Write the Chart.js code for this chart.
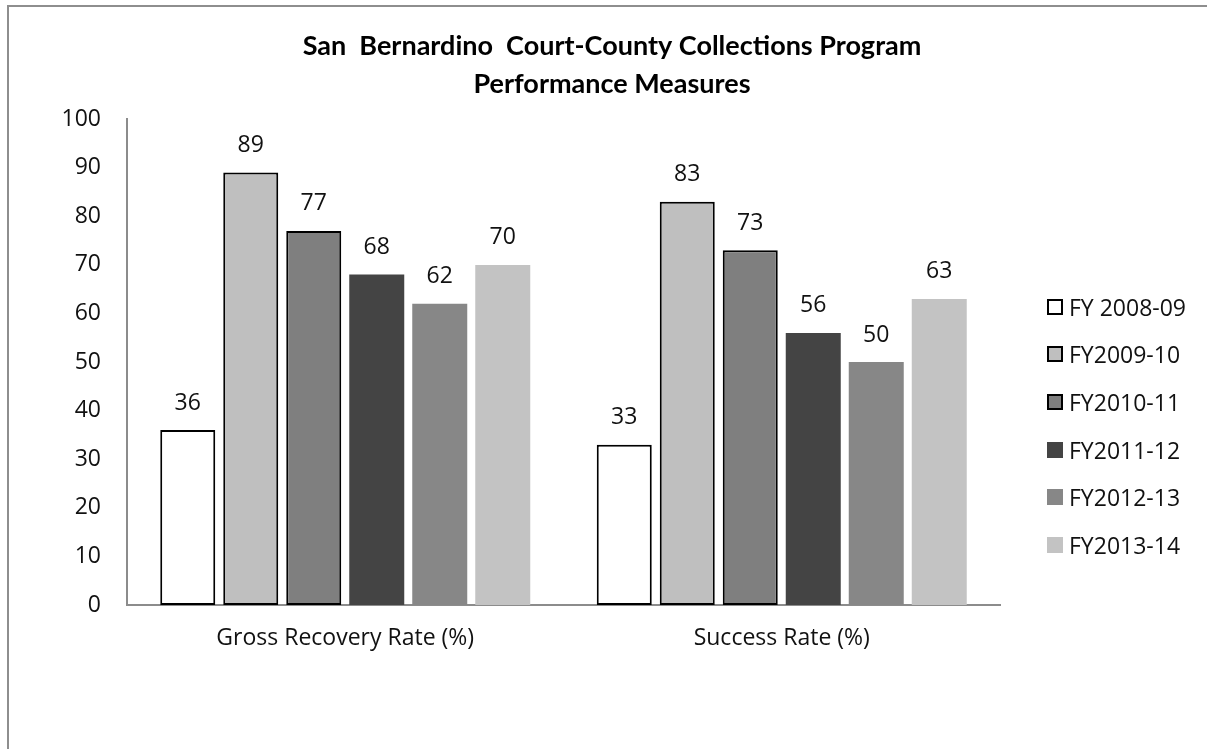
<!DOCTYPE html>
<html>
<head>
<meta charset="utf-8">
<script src="https://cdn.jsdelivr.net/npm/chart.js@4.4.1/dist/chart.umd.min.js"></script>
<style>
    html, body { margin: 0; padding: 0; background: #fff; overflow: hidden; }
    #frame {
        position: absolute; left: 7px; top: 5px; width: 1300px; height: 900px;
        border: 2px solid #8e8e8e; box-sizing: border-box;
    }
    #wrap { position: absolute; left: 0; top: 0; width: 1207px; height: 749px; }
    #legend {
        position: absolute; left: 1047px; top: 283px;
        font-family: "Open Sans", sans-serif; font-size: 23px; color: #111;
    }
    .item { height: 47.6px; display: flex; align-items: center; }
    .swatch { width: 16px; height: 16px; box-sizing: border-box; margin-right: 6px; }
</style>
</head>
<body>
<div id="frame"></div>
<div id="wrap"><canvas id="chart"></canvas></div>
<div id="legend"></div>
<script>
const categories = ['Gross Recovery Rate (%)', 'Success Rate (%)'];
const seriesNames = ['FY 2008-09', 'FY2009-10', 'FY2010-11', 'FY2011-12', 'FY2012-13', 'FY2013-14'];

const fy0809 = [36, 33];
const fy0910 = [89, 83];
const fy1011 = [77, 73];
const fy1112 = [68, 56];
const fy1213 = [62, 50];
const fy1314 = [70, 63];

const FILLS = ['#ffffff', '#bfbfbf', '#7f7f7f', '#444444', '#878787', '#c3c3c3'];
const OUTLINED = [true, true, true, false, false, false];
const AXIS_COLOR = '#8c8c8c';
const FONT = '"Open Sans", sans-serif';

const seriesValues = [fy0809, fy0910, fy1011, fy1112, fy1213, fy1314];

// draws the value above each bar
const valueLabels = {
    id: 'valueLabels',
    afterDatasetsDraw(chart) {
        const ctx = chart.ctx;
        ctx.save();
        ctx.font = '23px ' + FONT;
        ctx.fillStyle = '#111';
        ctx.textAlign = 'center';
        ctx.textBaseline = 'middle';
        chart.data.datasets.forEach((ds, i) => {
            chart.getDatasetMeta(i).data.forEach((bar, j) => {
                ctx.fillText(ds.data[j], bar.x, bar.y - 27);
            });
        });
        ctx.restore();
    }
};

function buildLegend(chart) {
    const box = document.getElementById('legend');
    chart.data.datasets.forEach((ds) => {
        const row = document.createElement('div');
        row.className = 'item';
        const sw = document.createElement('span');
        sw.className = 'swatch';
        sw.style.background = ds.backgroundColor;
        if (ds.borderWidth) sw.style.border = '2px solid ' + ds.borderColor;
        const txt = document.createElement('span');
        txt.textContent = ds.label;
        row.appendChild(sw);
        row.appendChild(txt);
        box.appendChild(row);
    });
}

const chart = new Chart(document.getElementById('chart'), {
    type: 'bar',
    data: {
        labels: categories,
        datasets: seriesNames.map((name, i) => ({
            label: name,
            data: seriesValues[i],
            backgroundColor: FILLS[i],
            borderColor: '#000',
            borderWidth: OUTLINED[i] ? 2 : 0,
            borderSkipped: false,
            categoryPercentage: 0.866,
            barPercentage: 0.873
        }))
    },
    options: {
        responsive: true,
        maintainAspectRatio: false,
        devicePixelRatio: 1,
        animation: false,
        layout: { padding: { left: 17, right: 0, top: 0, bottom: 0 } },
        plugins: {
            legend: { display: false },
            tooltip: { enabled: false },
            title: {
                display: true,
                text: ['San  Bernardino  Court-County Collections Program', 'Performance Measures'],
                color: '#000',
                font: { family: 'Lato, sans-serif', size: 27, weight: 'bold', lineHeight: 1.41 },
                padding: { top: 27, bottom: 16 }
            }
        },
        scales: {
            x: {
                grid: { display: false, drawTicks: false },
                border: { color: AXIS_COLOR, width: 2 },
                ticks: { color: '#111', font: { family: FONT, size: 23 }, padding: 20 },
                afterFit: (s) => { s.height = 144; }
            },
            y: {
                min: 0,
                max: 100,
                grid: { display: false, drawTicks: false },
                border: { color: AXIS_COLOR, width: 2 },
                ticks: { stepSize: 10, color: '#111', font: { family: FONT, size: 23 }, padding: 26 },
                afterFit: (s) => { s.width = 110; }
            },
            // empty room on the right for the legend
            gap: {
                type: 'linear',
                position: 'right',
                grid: { display: false },
                border: { display: false },
                ticks: { display: false },
                afterFit: (s) => { s.width = 207; }
            }
        }
    },
    plugins: [valueLabels]
});

buildLegend(chart);
</script>
</body>
</html>
